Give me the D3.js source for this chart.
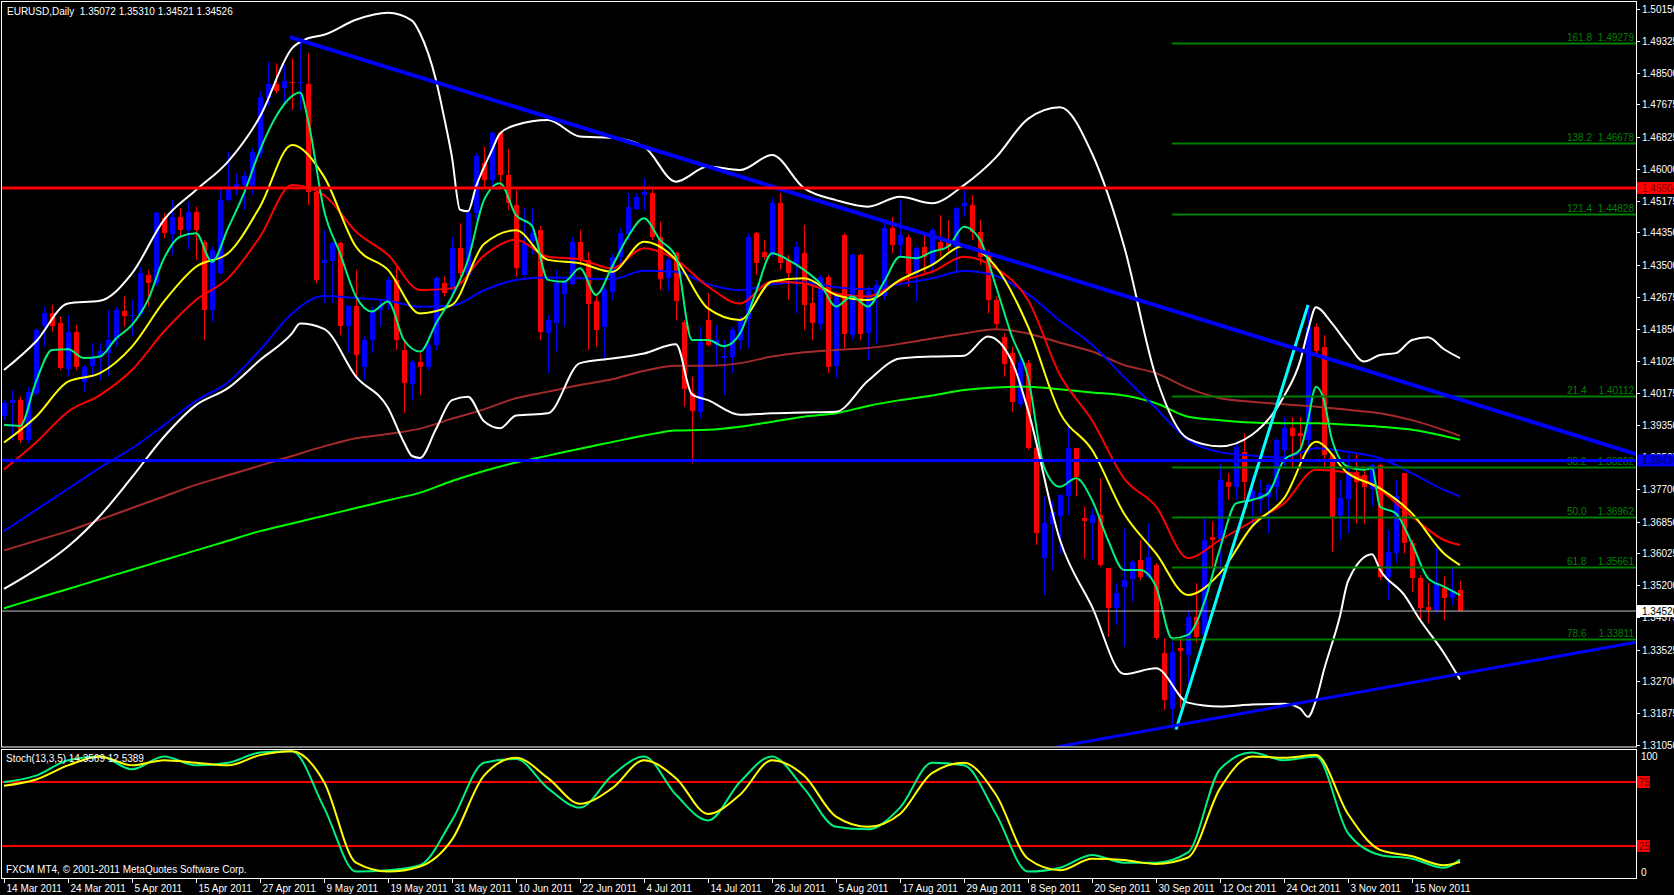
<!DOCTYPE html>
<html><head><meta charset="utf-8">
<script src="https://cdn.jsdelivr.net/npm/d3@7"></script>
<style>
html,body{margin:0;padding:0;background:#000;overflow:hidden}
svg{display:block}
text{font-family:"Liberation Sans",Arial,sans-serif}
</style></head><body>
<svg id="c" width="1674" height="895"></svg>
<script>
// ---------------- DATA ----------------
const symbolTitle = "EURUSD,Daily  1.35072 1.35310 1.34521 1.34526";
const copyright = "FXCM MT4, \u00A9 2001-2011 MetaQuotes Software Corp.";
const stochTitle = "Stoch(13,3,5) 14.3569 12.5389";

const dateLabels = ["14 Mar 2011","24 Mar 2011","5 Apr 2011","15 Apr 2011","27 Apr 2011","9 May 2011","19 May 2011","31 May 2011","10 Jun 2011","22 Jun 2011","4 Jul 2011","14 Jul 2011","26 Jul 2011","5 Aug 2011","17 Aug 2011","29 Aug 2011","8 Sep 2011","20 Sep 2011","30 Sep 2011","12 Oct 2011","24 Oct 2011","3 Nov 2011","15 Nov 2011"];
const barsPerLabel = 8;

const priceTicks = [1.50150,1.49325,1.48500,1.47675,1.46825,1.46000,1.45175,1.44350,1.43500,1.42675,1.41850,1.41025,1.40175,1.39350,1.38525,1.37700,1.36850,1.36025,1.35200,1.34375,1.33525,1.32700,1.31875,1.31050];

const open = [1.3957,1.3992,1.4000,1.3897,1.4018,1.4191,1.4225,1.4199,1.4083,1.4178,1.4048,1.4087,1.4113,1.4122,1.4160,1.4232,1.4219,1.4222,1.4325,1.4303,
1.4472,1.4433,1.4476,1.4442,1.4489,1.4411,1.4234,1.4329,1.4519,1.4550,1.4558,1.4558,1.4641,1.4783,1.4820,1.4811,1.4826,1.4824,1.4820,1.4541,
1.4355,1.4359,1.4407,1.4191,1.4243,1.4087,1.4156,1.4234,1.4260,1.4312,1.4130,1.4044,1.4100,1.4087,1.4143,1.4303,1.4286,1.4394,1.4325,1.4485,
1.4615,1.4571,1.4692,1.4584,1.4506,1.4325,1.4411,1.4442,1.4173,1.4199,1.4277,1.4303,1.4411,1.4364,1.4256,1.4191,1.4282,1.4372,1.4433,1.4498,
1.4532,1.4537,1.4424,1.4316,1.4381,1.4204,1.4018,1.3970,1.4208,1.4143,1.4111,1.4113,1.4156,1.4212,1.4433,1.4385,1.4381,1.4511,1.4364,1.4355,
1.4381,1.4251,1.4199,1.4320,1.4087,1.4429,1.4169,1.4377,1.4173,1.4269,1.4269,1.4446,1.4403,1.4424,1.4329,1.4398,1.4355,1.4411,1.4411,1.4398,
1.4502,1.4506,1.4437,1.4381,1.4260,1.4165,1.4122,1.3992,1.4096,1.3875,1.3589,1.3680,1.3700,1.3750,1.3875,1.3693,1.3680,1.3702,1.3564,1.3460,
1.3516,1.3538,1.3585,1.3542,1.3572,1.3343,1.3200,1.3356,1.3339,1.3438,1.3390,1.3646,1.3641,1.3788,1.3775,1.3866,1.3741,1.3741,1.3749,1.3776,
1.3870,1.3927,1.3914,1.3897,1.4191,1.4139,1.3858,1.3698,1.3745,1.3814,1.3806,1.3771,1.3832,1.3542,1.3602,1.3810,1.3628,1.3538,1.3464,1.3455,
1.3512,1.3486,1.35072];
const high = [1.4000,1.4026,1.4009,1.4035,1.4186,1.4243,1.4247,1.4217,1.4221,1.4195,1.4091,1.4149,1.4149,1.4234,1.4243,1.4269,1.4260,1.4346,1.4338,1.4489,
1.4485,1.4519,1.4498,1.4515,1.4502,1.4416,1.4398,1.4550,1.4645,1.4587,1.4593,1.4653,1.4801,1.4878,1.4874,1.4870,1.4887,1.4935,1.4900,1.4545,
1.4442,1.4411,1.4411,1.4247,1.4338,1.4165,1.4243,1.4260,1.4320,1.4346,1.4156,1.4104,1.4122,1.4165,1.4321,1.4321,1.4424,1.4459,1.4489,1.4641,
1.4658,1.4697,1.4697,1.4651,1.4545,1.4498,1.4498,1.4452,1.4221,1.4338,1.4312,1.4424,1.4442,1.4385,1.4277,1.4295,1.4381,1.4446,1.4537,1.4537,
1.4576,1.4545,1.4463,1.4368,1.4385,1.4208,1.4061,1.4191,1.4277,1.4195,1.4156,1.4191,1.4217,1.4433,1.4437,1.4416,1.4524,1.4537,1.4377,1.4411,
1.4455,1.4295,1.4325,1.4325,1.4273,1.4433,1.4381,1.4381,1.4295,1.4312,1.4468,1.4476,1.4519,1.4429,1.4398,1.4433,1.4446,1.4480,1.4467,1.4502,
1.4545,1.4532,1.4468,1.4390,1.4269,1.4173,1.4139,1.4122,1.4104,1.3879,1.3750,1.3737,1.3754,1.3935,1.3875,1.3724,1.3719,1.3797,1.3564,1.3525,
1.3667,1.3585,1.3637,1.3680,1.3577,1.3382,1.3373,1.3378,1.3455,1.3525,1.3693,1.3685,1.3836,1.3810,1.3888,1.3914,1.3801,1.3793,1.3784,1.3901,
1.3957,1.3957,1.3957,1.4247,1.4199,1.4169,1.3862,1.3793,1.3862,1.3862,1.3827,1.3836,1.3836,1.3663,1.3793,1.3810,1.3637,1.3546,1.3525,1.3615,
1.3542,1.3568,1.35310];
const low = [1.3948,1.3897,1.3888,1.3888,1.4013,1.4139,1.4178,1.4078,1.4061,1.4078,1.4022,1.4061,1.4052,1.4061,1.4139,1.4191,1.4165,1.4217,1.4243,1.4295,
1.4420,1.4377,1.4424,1.4390,1.4364,1.4156,1.4204,1.4325,1.4515,1.4532,1.4494,1.4532,1.4628,1.4766,1.4796,1.4770,1.4753,1.4753,1.4506,1.4303,
1.4251,1.4251,1.4169,1.4122,1.4061,1.4052,1.4122,1.4191,1.4234,1.4130,1.3966,1.4000,1.4013,1.4078,1.4130,1.4269,1.4277,1.4303,1.4321,1.4468,
1.4554,1.4554,1.4554,1.4493,1.4320,1.4320,1.4377,1.4156,1.4070,1.4126,1.4191,1.4299,1.4351,1.4130,1.4139,1.4104,1.4260,1.4346,1.4416,1.4493,
1.4493,1.4416,1.4286,1.4282,1.4208,1.3983,1.3836,1.3953,1.4139,1.4087,1.4013,1.4070,1.4130,1.4135,1.4325,1.4364,1.4372,1.4338,1.4260,1.4225,
1.4182,1.4156,1.4182,1.4070,1.4057,1.4135,1.4156,1.4156,1.4104,1.4147,1.4260,1.4381,1.4372,1.4295,1.4256,1.4325,1.4329,1.4372,1.4381,1.4329,
1.4476,1.4416,1.4350,1.4225,1.4182,1.4061,1.3970,1.3983,1.3871,1.3624,1.3494,1.3559,1.3602,1.3702,1.3750,1.3589,1.3585,1.3568,1.3386,1.3416,
1.3360,1.3477,1.3533,1.3538,1.3378,1.3196,1.3148,1.3200,1.3239,1.3370,1.3386,1.3564,1.3538,1.3741,1.3741,1.3741,1.3672,1.3706,1.3654,1.3741,
1.3827,1.3827,1.3819,1.3862,1.4120,1.3827,1.3607,1.3637,1.3654,1.3680,1.3680,1.3724,1.3533,1.3481,1.3577,1.3602,1.3503,1.3429,1.3421,1.3447,
1.3429,1.3468,1.34521];
const close = [1.3992,1.4000,1.3897,1.4022,1.4182,1.4225,1.4191,1.4083,1.4178,1.4087,1.4087,1.4109,1.4128,1.4156,1.4234,1.4219,1.4222,1.4329,1.4303,1.4485,
1.4433,1.4476,1.4442,1.4489,1.4442,1.4234,1.4390,1.4519,1.4545,1.4561,1.4582,1.4645,1.4787,1.4820,1.4802,1.4828,1.4824,1.4826,1.4541,1.4312,
1.4364,1.4407,1.4191,1.4243,1.4117,1.4156,1.4234,1.4247,1.4312,1.4156,1.4044,1.4100,1.4087,1.4143,1.4316,1.4277,1.4394,1.4329,1.4485,1.4634,
1.4571,1.4692,1.4584,1.4511,1.4342,1.4407,1.4433,1.4178,1.4208,1.4303,1.4307,1.4411,1.4364,1.4251,1.4182,1.4286,1.4372,1.4433,1.4502,1.4528,
1.4541,1.4424,1.4316,1.4364,1.4256,1.4031,1.3970,1.4152,1.4143,1.4156,1.4115,1.4182,1.4208,1.4424,1.4355,1.4372,1.4511,1.4355,1.4329,1.4398,
1.4247,1.4199,1.4320,1.4087,1.4269,1.4173,1.4377,1.4173,1.4282,1.4299,1.4446,1.4403,1.4429,1.4329,1.4394,1.4372,1.4442,1.4390,1.4398,1.4498,
1.4511,1.4437,1.4372,1.4260,1.4199,1.4096,1.3996,1.4100,1.3875,1.3654,1.3680,1.3710,1.3754,1.3875,1.3801,1.3685,1.3702,1.3572,1.3460,1.3499,
1.3533,1.3581,1.3542,1.3594,1.3382,1.3222,1.3347,1.3347,1.3438,1.3386,1.3637,1.3637,1.3793,1.3775,1.3879,1.3788,1.3763,1.3758,1.3780,1.3897,
1.3927,1.3905,1.3905,1.4191,1.4130,1.3858,1.3698,1.3745,1.3814,1.3788,1.3775,1.3832,1.3542,1.3607,1.3750,1.3628,1.3538,1.3460,1.3455,1.3525,
1.3486,1.3507,1.34526];

// fast moving average, read every 2 bars (with a few extra peaks)
const maFastBars = [0,2,4,6,8,10,12,14,16,18,20,22,24,26,28,30,32,34,36,37,38,40,42,44,46,48,50,52,54,56,58,60,62,64,66,68,70,72,74,76,78,80,82,84,86,88,90,92,94,96,98,100,102,104,106,108,110,112,114,116,118,120,122,124,126,128,130,132,134,136,138,140,142,144,146,148,150,152,154,156,158,160,162,163,164,165,166,168,170,171,172,174,176,178,180,182];
const maFast = [1.3936,1.3933,1.4048,1.4130,1.4132,1.4109,1.4113,1.4160,1.4195,1.4260,1.4368,1.4424,1.4433,1.4359,1.4446,1.4537,1.4649,1.4736,1.4789,1.4798,1.4727,1.4493,1.4381,1.4269,1.4230,1.4256,1.4156,1.4126,1.4199,1.4269,1.4364,1.4519,1.4563,1.4480,1.4452,1.4312,1.4307,1.4342,1.4273,1.4346,1.4424,1.4472,1.4416,1.4372,1.4156,1.4156,1.4140,1.4173,1.4281,1.4381,1.4364,1.4338,1.4303,1.4243,1.4269,1.4243,1.4307,1.4372,1.4368,1.4385,1.4398,1.4450,1.4416,1.4295,1.4165,1.4061,1.3827,1.3775,1.3797,1.3741,1.3637,1.3559,1.3559,1.3516,1.3382,1.3391,1.3473,1.3615,1.3732,1.3741,1.3758,1.3845,1.3871,1.3948,1.4035,1.4000,1.3897,1.3827,1.3819,1.3823,1.3724,1.3706,1.3628,1.3538,1.3516,1.3494];

// other indicator lines, read every 4 bars (bars 0,4,...,180 and the last bar 182)
const maYellow = [1.3890,1.3957,1.4048,1.4070,1.4139,1.4256,1.4346,1.4381,1.4502,1.4662,1.4580,1.4398,1.4338,1.4225,1.4247,1.4405,1.4441,1.4364,1.4355,1.4333,1.4411,1.4364,1.4238,1.4208,1.4308,1.4316,1.4273,1.4260,1.4312,1.4351,1.4400,1.4346,1.4191,1.3967,1.3871,1.3706,1.3602,1.3494,1.3551,1.3672,1.3745,1.3892,1.3810,1.3771,1.3706,1.3602,1.3572];
const maRed = [1.3820,1.3890,1.3970,1.4013,1.4078,1.4178,1.4260,1.4316,1.4424,1.4558,1.4532,1.4437,1.4377,1.4286,1.4290,1.4375,1.4416,1.4372,1.4365,1.4342,1.4394,1.4364,1.4295,1.4251,1.4308,1.4303,1.4277,1.4269,1.4308,1.4333,1.4372,1.4342,1.4260,1.4065,1.3948,1.3797,1.3724,1.3590,1.3637,1.3685,1.3732,1.3819,1.3812,1.3767,1.3698,1.3637,1.3624];
const maBlue = [1.3660,1.3715,1.3770,1.3825,1.3875,1.3935,1.3998,1.4046,1.4130,1.4225,1.4270,1.4265,1.4258,1.4242,1.4245,1.4285,1.4312,1.4318,1.4316,1.4314,1.4336,1.4333,1.4301,1.4285,1.4301,1.4306,1.4293,1.4288,1.4301,1.4316,1.4335,1.4322,1.4275,1.4206,1.4144,1.4060,1.3979,1.3897,1.3865,1.3856,1.3851,1.3875,1.3866,1.3849,1.3810,1.3767,1.3750];
const maBrown = [1.3610,1.3635,1.3660,1.3690,1.3720,1.3750,1.3780,1.3805,1.3830,1.3855,1.3880,1.3901,1.3912,1.3926,1.3952,1.3976,1.4005,1.4022,1.4039,1.4054,1.4076,1.4089,1.4089,1.4096,1.4113,1.4124,1.4130,1.4135,1.4146,1.4160,1.4173,1.4184,1.4173,1.4149,1.4126,1.4091,1.4070,1.4031,1.4005,1.3996,1.3989,1.3983,1.3975,1.3966,1.3948,1.3922,1.3907];
const maGreen = [1.3460,1.3485,1.3510,1.3535,1.3560,1.3585,1.3610,1.3635,1.3660,1.3680,1.3700,1.3720,1.3740,1.3760,1.3790,1.3816,1.3838,1.3856,1.3874,1.3891,1.3908,1.3921,1.3923,1.3931,1.3944,1.3957,1.3966,1.3985,1.4000,1.4012,1.4026,1.4033,1.4035,1.4028,1.4020,1.4012,1.3992,1.3957,1.3948,1.3942,1.3940,1.3940,1.3936,1.3931,1.3923,1.3907,1.3897];
const stochMain = [75,80,92,95,85,95,88,90,98,99,55,5,6,10,45,90,93,70,55,80,95,65,45,75,95,70,40,38,55,90,88,50,5,8,18,12,12,20,85,98,92,95,35,18,15,8,14.36];
const stochSignal = [72,77,88,95,88,92,90,88,96,99,75,12,5,9,30,80,94,78,58,70,92,78,50,65,92,80,48,40,50,82,90,65,15,6,15,14,11,16,70,95,94,96,50,22,17,10,12.54];

// Bollinger bands, read at the bars listed
const bandUpperBars = [0,4,8,12,16,20,24,28,32,36,38,40,44,48,51,52,54,55,56,57,58,59,61,62,64,68,72,76,80,84,88,92,96,100,104,108,112,116,120,124,128,132,136,140,144,148,152,156,160,162,163,164,166,168,170,172,174,176,178,180,182];
const bandUpper = [1.4078,1.4152,1.4251,1.4258,1.4329,1.4468,1.4545,1.4619,1.4736,1.4913,1.4939,1.4948,1.4987,1.5005,1.4985,1.4952,1.4830,1.4735,1.4630,1.4494,1.4490,1.4554,1.4649,1.4692,1.4714,1.4727,1.4684,1.4681,1.4658,1.4567,1.4606,1.4597,1.4636,1.4550,1.4519,1.4502,1.4528,1.4511,1.4558,1.4630,1.4730,1.4760,1.4640,1.4400,1.4060,1.3900,1.3880,1.3910,1.4010,1.4100,1.4180,1.4241,1.4199,1.4145,1.4100,1.4117,1.4122,1.4156,1.4163,1.4132,1.4109];
const bandLowerBars = [0,4,8,12,16,20,24,28,32,36,37,40,44,48,50,51,52,54,56,58,60,62,64,68,72,76,80,84,86,88,92,96,100,104,108,112,116,120,123,126,128,132,136,140,144,148,152,156,160,162,163,164,165,167,168,171,172,175,177,180,182];
const bandLower = [1.3510,1.3560,1.3620,1.3700,1.3800,1.3905,1.3987,1.4031,1.4104,1.4173,1.4199,1.4185,1.4061,1.3980,1.3890,1.3855,1.3850,1.3925,1.4000,1.4009,1.3945,1.3927,1.3960,1.3966,1.4096,1.4108,1.4121,1.4145,1.4015,1.4000,1.3962,1.3966,1.3968,1.3970,1.4050,1.4108,1.4113,1.4115,1.4165,1.4100,1.3974,1.3637,1.3464,1.3289,1.3304,1.3215,1.3205,1.3210,1.3212,1.3200,1.3178,1.3222,1.3300,1.3440,1.3530,1.3600,1.3560,1.3495,1.3430,1.3343,1.3275];

// objects
const hLineRed = 1.45504, hLineBlue = 1.38436, bidPrice = 1.34526;
const fibLevels = ["161.8","138.2","121.4","21.4","38.2","50.0","61.8","78.6"];
const fibPrices = [1.49279,1.46678,1.44828,1.40112,1.38262,1.36962,1.35661,1.33811];
const fibStartBar = 146;
const trendDown = [[35.75,1.4942],[204,1.3860]];
const trendUp = [[131.6,1.3100],[204,1.3372]];
const cyanLine = [[146.5,1.3145],[163,1.4247]];
const stochLevels = [75,25];

// ---------------- DRAW ----------------
const svg = d3.select("#c");
const plotR = 1636, mainTop = 2, mainBot = 747, stTop = 749, stBot = 878;
const x = d3.scaleLinear().domain([0,204]).range([4,1636]);
const y = d3.scaleLinear().domain([1.3105,1.5015]).range([745,9]);
const ys = d3.scaleLinear().domain([0,100]).range([878,750]);
const fmt = d3.format(".5f");

svg.append("rect").attr("width",1674).attr("height",895).attr("fill","#000");
const defs = svg.append("defs");
defs.append("clipPath").attr("id","cm").append("rect").attr("x",2).attr("y",mainTop+0.5).attr("width",plotR-2).attr("height",mainBot-mainTop-1);
defs.append("clipPath").attr("id","cs").append("rect").attr("x",2).attr("y",stTop+0.5).attr("width",plotR-2).attr("height",stBot-stTop-1);

const gm = svg.append("g").attr("clip-path","url(#cm)");
const gs = svg.append("g").attr("clip-path","url(#cs)");

// candles
const bars = d3.range(open.length);
const col = i => close[i] >= open[i] ? "#0000ff" : "#ff0000";
gm.selectAll("line.wick").data(bars).enter().append("line")
  .attr("x1",i=>Math.round(x(i))+0.5).attr("x2",i=>Math.round(x(i))+0.5)
  .attr("y1",i=>y(high[i])).attr("y2",i=>y(low[i]))
  .attr("stroke",col).attr("stroke-width",1);
gm.selectAll("rect.body").data(bars).enter().append("rect")
  .attr("x",i=>Math.round(x(i))-2).attr("width",5)
  .attr("y",i=>Math.round(y(Math.max(open[i],close[i]))))
  .attr("height",i=>Math.max(1,Math.round(Math.abs(y(open[i])-y(close[i])))))
  .attr("fill",col);

// indicator lines
const sampleIdx = d3.range(0,181,4).concat([182]);
function drawSeries(g, idx, vals, sc, color, w){
  const pts = idx.map((b,k)=>[b,vals[k]]);
  g.append("path").datum(pts)
    .attr("d", d3.line().x(d=>x(d[0])).y(d=>sc(d[1])).curve(d3.curveMonotoneX))
    .attr("fill","none").attr("stroke",color).attr("stroke-width",w).attr("stroke-linejoin","round");
}
drawSeries(gm, sampleIdx, maGreen, y, "#00ff00", 2);
drawSeries(gm, sampleIdx, maBrown, y, "#a52a2a", 2);
drawSeries(gm, sampleIdx, maBlue, y, "#0000ff", 2);
drawSeries(gm, sampleIdx, maRed, y, "#ff0000", 2);
drawSeries(gm, sampleIdx, maYellow, y, "#ffff00", 2);
drawSeries(gm, maFastBars, maFast, y, "#00f080", 2);
drawSeries(gm, bandUpperBars, bandUpper, y, "#ffffff", 2);
drawSeries(gm, bandLowerBars, bandLower, y, "#ffffff", 2);

// fibonacci
fibPrices.forEach((p,k)=>{
  const yy = Math.round(y(p))+0.5;
  gm.append("line").attr("x1",x(fibStartBar)).attr("x2",plotR).attr("y1",yy).attr("y2",yy)
    .attr("stroke","#008000").attr("stroke-width",2);
  gm.append("text").attr("x",1567).attr("y",yy-3).attr("fill","#008000").attr("font-size",10).text(fibLevels[k]);
  gm.append("text").attr("x",1634).attr("y",yy-3).attr("text-anchor","end").attr("fill","#008000").attr("font-size",10).text(fmt(p));
});

// trend lines
function tline(seg, color, w){
  gm.append("line").attr("x1",x(seg[0][0])).attr("y1",y(seg[0][1])).attr("x2",x(seg[1][0])).attr("y2",y(seg[1][1]))
    .attr("stroke",color).attr("stroke-width",w);
}
function hline(p,color,w){
  const yy = y(p);
  gm.append("line").attr("x1",0).attr("x2",plotR).attr("y1",yy).attr("y2",yy).attr("stroke",color).attr("stroke-width",w);
}
hline(bidPrice,"#c0c0c0",1);
tline(cyanLine,"#00ffff",3);
tline(trendDown,"#0000ff",4);
tline(trendUp,"#0000ff",3);
hline(hLineRed,"#ff0000",3);
hline(hLineBlue,"#0000ff",3);

// stochastic
stochLevels.forEach(v=>{
  gs.append("line").attr("x1",0).attr("x2",plotR).attr("y1",ys(v)).attr("y2",ys(v)).attr("stroke","#ff0000").attr("stroke-width",2);
});
drawSeries(gs, sampleIdx, stochMain, ys, "#00f080", 2);
drawSeries(gs, sampleIdx, stochSignal, ys, "#ffff00", 2);

// panel frames
svg.append("rect").attr("x",1.5).attr("y",1.5).attr("width",plotR-1).attr("height",mainBot-1.5).attr("fill","none").attr("stroke","#fff");
svg.append("rect").attr("x",1.5).attr("y",stTop+0.5).attr("width",plotR-1).attr("height",stBot-stTop).attr("fill","none").attr("stroke","#fff");

// price axis
const ax = svg.append("g");
priceTicks.forEach(p=>{
  const yy = Math.round(y(p))+0.5;
  ax.append("line").attr("x1",plotR+1).attr("x2",plotR+4).attr("y1",yy).attr("y2",yy).attr("stroke","#fff");
  ax.append("text").attr("x",1642).attr("y",yy+3.5).attr("fill","#fff").attr("font-size",10).text(fmt(p));
});
function priceBox(p,bg,fg){
  const yy = y(p);
  ax.append("rect").attr("x",plotR+1).attr("y",yy-6).attr("width",40).attr("height",12).attr("fill",bg);
  ax.append("text").attr("x",1642).attr("y",yy+3.5).attr("fill",fg).attr("font-size",10).text(fmt(p));
}
priceBox(hLineRed,"#ff0000","#800000");
priceBox(hLineBlue,"#0000ff","#000060");
priceBox(bidPrice,"#ffffff","#000000");

// stoch axis
[100,0].forEach(v=>{
  ax.append("text").attr("x",1641).attr("y",v===100?760:876).attr("fill","#fff").attr("font-size",10).text(v);
});
stochLevels.forEach(v=>{
  ax.append("rect").attr("x",plotR+1).attr("y",ys(v)-6).attr("width",13).attr("height",12).attr("fill","#ff0000");
  ax.append("text").attr("x",1639).attr("y",ys(v)+4).attr("fill","#600000").attr("font-size",10).text(v);
});

// time axis
dateLabels.forEach((t,k)=>{
  const xx = Math.round(x(k*barsPerLabel))+0.5;
  ax.append("line").attr("x1",xx).attr("x2",xx).attr("y1",stBot).attr("y2",stBot+5).attr("stroke","#fff");
  ax.append("text").attr("x",xx+2).attr("y",892).attr("fill","#fff").attr("font-size",10).text(t);
});

// titles
svg.append("text").attr("x",7).attr("y",15).attr("fill","#fff").attr("font-size",10).style("white-space","pre").text(symbolTitle);
svg.append("text").attr("x",6).attr("y",762).attr("fill","#fff").attr("font-size",10).text(stochTitle);
svg.append("text").attr("x",6).attr("y",873).attr("fill","#fff").attr("font-size",10).text(copyright);
</script>
</body></html>
